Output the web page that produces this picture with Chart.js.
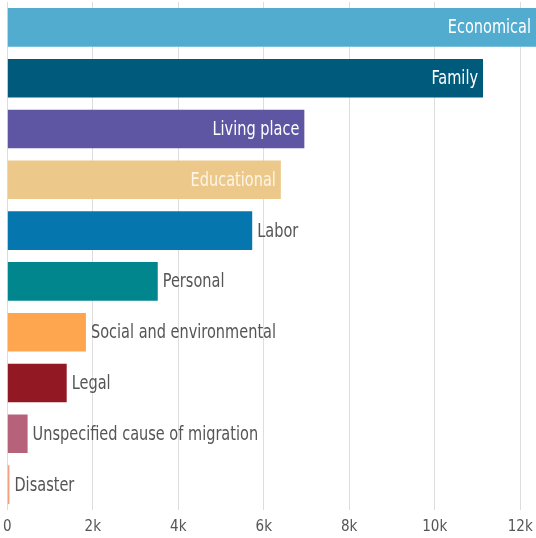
<!DOCTYPE html>
<html>
<head>
<meta charset="utf-8">
<script src="https://cdn.jsdelivr.net/npm/chart.js@4"></script>
<style>
  html, body { margin: 0; padding: 0; background: #fff; overflow: hidden; }
  #wrap { width: 542px; height: 539px; }
</style>
</head>
<body>
<div id="wrap"><canvas id="barChart"></canvas></div>
<script>
// causes of migration
const categories = ['Economical', 'Family', 'Living place', 'Educational', 'Labor',
  'Personal', 'Social and environmental', 'Legal', 'Unspecified cause of migration', 'Disaster'];
const values = [12600, 11130, 6950, 6400, 5730, 3520, 1840, 1390, 475, 50];
const colors = ['#51acd0', '#005a7c', '#5e55a3', '#ecc98a', '#0577ae',
  '#00868c', '#fea64f', '#921923', '#b5627a', '#f4a080'];
const insideLabel = [true, true, true, true, false, false, false, false, false, false];
const tickValues = [0, 2000, 4000, 6000, 8000, 10000, 12000];

const FONT = '"DejaVu Sans Condensed", "Liberation Sans Narrow", sans-serif';

// category names drawn at the bar ends, squeezed a bit to look condensed
const barLabels = {
    id: 'barLabels',
    afterDatasetsDraw(chart) {
        const ctx = chart.ctx;
        const meta = chart.getDatasetMeta(0);
        const squeeze = 0.85;
        const visibleRight = Math.min(chart.chartArea.right, window.innerWidth);
        meta.data.forEach((bar, i) => {
            const label = categories[i];
            ctx.save();
            ctx.font = '19px ' + FONT;
            ctx.textBaseline = 'middle';
            let x;
            if (insideLabel[i]) {
                ctx.fillStyle = i === 3 ? '#fdf5e6' : '#ffffff';
                ctx.textAlign = 'right';
                x = Math.min(bar.x, visibleRight) - 5;
            } else {
                ctx.fillStyle = '#555555';
                ctx.textAlign = 'left';
                x = bar.x + 5;
            }
            ctx.translate(x, bar.y);
            ctx.scale(squeeze, 1);
            ctx.fillText(label, 0, 1);
            ctx.restore();
        });
    }
};

new Chart(document.getElementById('barChart').getContext('2d'), {
    type: 'bar',
    data: {
        labels: categories,
        datasets: [{
            data: values,
            backgroundColor: colors,
            borderWidth: 0,
            categoryPercentage: 1,
            barPercentage: 0.76,
        }],
    },
    options: {
        indexAxis: 'y',
        responsive: true,
        maintainAspectRatio: false,
        animation: false,
        layout: { padding: { top: 2, left: 2, right: 0, bottom: 0 } },
        plugins: {
            legend: { display: false },
            tooltip: { enabled: false },
        },
        scales: {
            y: { display: false },
            x: {
                min: 0,
                max: 12510,
                afterBuildTicks: (scale) => {
                    scale.ticks = tickValues.map(v => ({ value: v }));
                },
                border: { display: false },
                grid: {
                    color: '#dddddd',
                    lineWidth: 1,
                    drawTicks: true,
                    tickLength: 5,
                    tickColor: 'rgba(0,0,0,0)',
                },
                ticks: {
                    padding: 3,
                    color: '#555555',
                    font: { family: FONT, size: 15 },
                    callback: (v) => v === 0 ? '0' : (v / 1000) + 'k',
                },
            },
        },
    },
    plugins: [barLabels],
});
</script>
</body>
</html>
